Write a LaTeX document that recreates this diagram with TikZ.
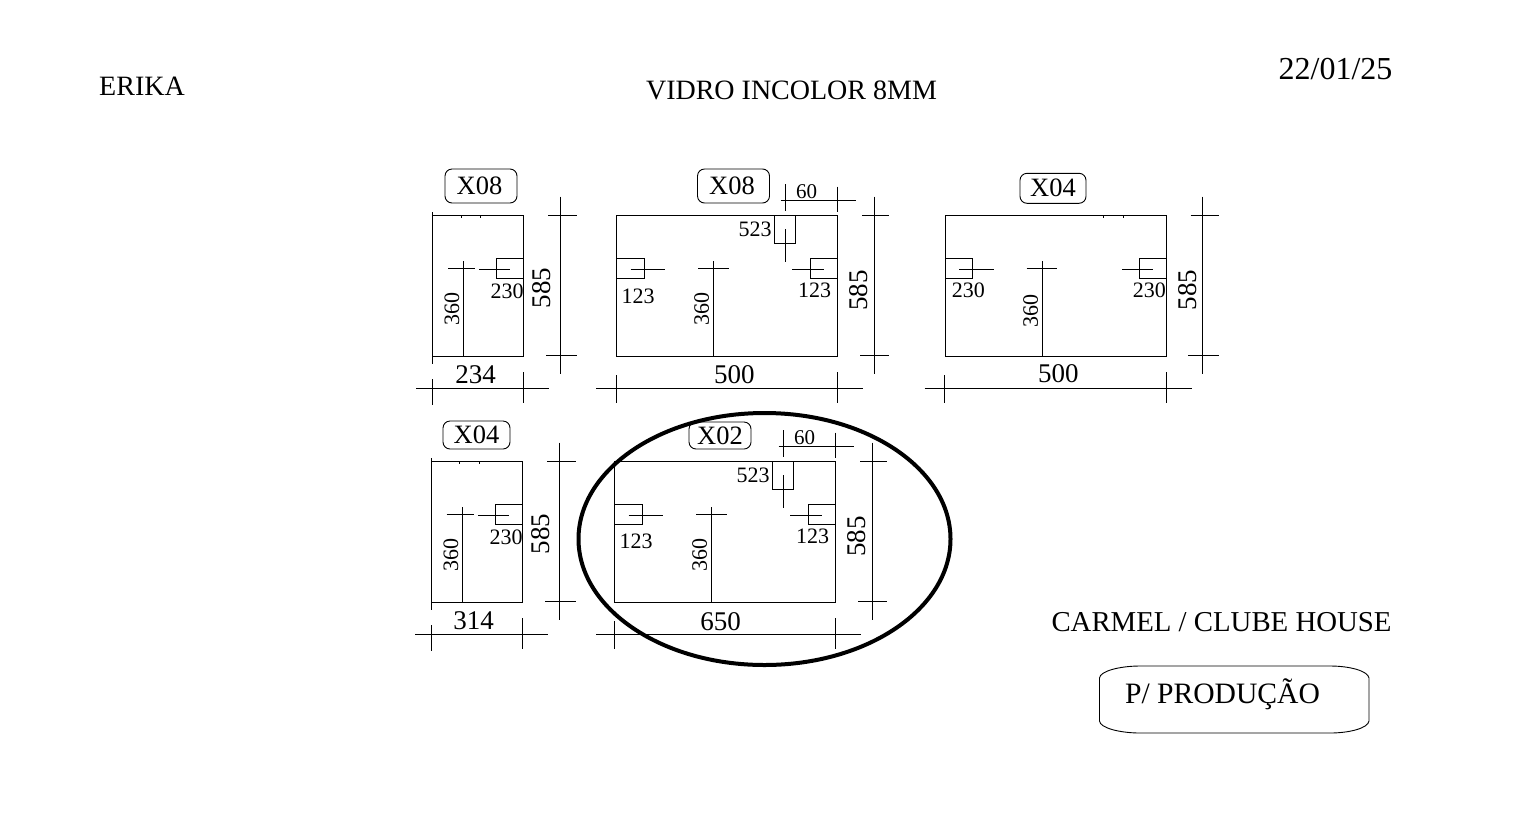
\documentclass[tikz,border=0pt]{standalone}
\usepackage{fontspec}
\setmainfont{Liberation Serif}
\tikzset{
  panel/.style={draw=black,line width=1pt},
  dimline/.style={draw=black,line width=.95pt},
  numsmall/.style={inner sep=0pt,font=\fontsize{22}{24}\selectfont},
  numbig/.style={inner sep=0pt,font=\fontsize{27}{29}\selectfont},
  headtext/.style={inner sep=0pt,font=\fontsize{28}{30}\selectfont},
  qtybox/.style={draw=black,line width=.9pt,rounded corners=7pt,inner sep=0pt,
    font=\fontsize{26.5}{28}\selectfont},
}
\newcommand{\qtytext}[1]{\raisebox{1pt}{\kern-3pt #1}}
\begin{document}
\begin{tikzpicture}[x=1pt,y=-1pt]
\useasboundingbox (0,0) rectangle (1536,812);
\fill[white] (0,0) rectangle (1536,812);

% headings
\node(erika) [headtext] at (142,86) {ERIKA};
\node(vidro) [headtext] at (791.5,90) {VIDRO INCOLOR 8MM};
\node(date) [headtext,font=\fontsize{32}{34}\selectfont] at (1335.5,69) {22/01/25};
\node(carmel) [headtext,font=\fontsize{28.8}{32}\selectfont] at (1221.5,622) {CARMEL / CLUBE HOUSE};
\node(prod) [headtext,font=\fontsize{29.6}{32}\selectfont] at (1222.5,694) {P/ PRODUÇÃO};
\draw[line width=.9pt,black] (1099.5,678) .. controls (1100,671) and (1120,666) .. (1140,666) -- (1330,666)
  .. controls (1350,666) and (1368,671) .. (1369,678) -- (1369,721)
  .. controls (1368,728) and (1350,733) .. (1330,733) -- (1140,733)
  .. controls (1120,733) and (1100,728) .. (1099.5,721) -- cycle;

% panel X08 narrow
\node(qa) [qtybox,minimum width=72pt,minimum height=34pt] at (481,186) {\qtytext{X08}};
\draw[panel] (432.5,215.7) rectangle (523.5,356.7);
\draw[panel] (432.5,212) -- (432.5,364);
\draw[dimline] (461,215.7) -- (461,218);
\draw[dimline] (480.7,215.7) -- (480.7,218);
\draw[panel] (523.5,258.3) -- (496.7,258.3) -- (496.7,278.3) -- (523.5,278.3);
\draw[dimline] (479.3,269) -- (510,269);
\draw[dimline] (463.3,261) -- (463.3,356.7);
\draw[dimline] (448,268.3) -- (475.3,268.3);
\draw[dimline] (416,388.3) -- (548.7,388.3);
\draw[dimline] (432.5,379) -- (432.5,405);
\draw[dimline] (523.3,372) -- (523.3,402.7);
\draw[dimline] (560.3,196.7) -- (560.3,373.7);
\draw[dimline] (548,215.7) -- (576.7,215.7);
\draw[dimline] (546.3,355.7) -- (576.7,355.7);
\node(a230) [numsmall] at (507,291) {230};
\node(a360) [numsmall,rotate=90] at (452,309) {360};
\node(a585) [numbig,rotate=90] at (541.7,288) {585};
\node(a234) [numbig] at (475.7,375) {234};

% panel X08 wide
\node(qb) [qtybox,minimum width=72pt,minimum height=34pt] at (733.5,186) {\qtytext{X08}};
\draw[panel] (616.7,215.7) rectangle (837.3,356.7);
\draw[panel] (774.7,215.7) -- (774.7,243.3) -- (795,243.3) -- (795,215.7);
\draw[dimline] (785.7,229.3) -- (785.7,261.7);
\draw[dimline] (780.7,200.7) -- (856,200.7);
\draw[dimline] (785.7,184) -- (785.7,210.7);
\draw[dimline] (837.3,186.7) -- (837.3,212.3);
\draw[panel] (616.7,258.3) -- (644,258.3) -- (644,278.3) -- (616.7,278.3);
\draw[dimline] (630.7,269) -- (665,269);
\draw[dimline] (713.3,261) -- (713.3,356.7);
\draw[dimline] (698,268.3) -- (728.7,268.3);
\draw[panel] (837.3,258.3) -- (810.7,258.3) -- (810.7,278.3) -- (837.3,278.3);
\draw[dimline] (792.3,269) -- (824,269);
\draw[dimline] (596,388.3) -- (862.7,388.3);
\draw[dimline] (616,375) -- (616,402.7);
\draw[dimline] (837.3,372.3) -- (837.3,402.7);
\draw[dimline] (874,196.7) -- (874,373.7);
\draw[dimline] (862,215.7) -- (889,215.7);
\draw[dimline] (860,355.7) -- (889,355.7);
\node(b60) [numsmall,font=\fontsize{21}{23}\selectfont] at (806.7,192) {60};
\node(b523) [numsmall] at (755,229.3) {523};
\node(b123l) [numsmall] at (638,296) {123};
\node(b123r) [numsmall] at (814.7,290.3) {123};
\node(b360) [numsmall,rotate=90] at (701.7,309) {360};
\node(b585) [numbig,rotate=90] at (858.3,290.7) {585};
\node(b500) [numbig] at (734.3,375) {500};

% panel X04 wide
\node(qc) [qtybox,minimum width=66pt,minimum height=30pt] at (1053,188.3) {X04};
\draw[panel] (945.3,215.7) rectangle (1166.7,356.7);
\draw[dimline] (1103.3,215.7) -- (1103.3,218);
\draw[dimline] (1123.3,215.7) -- (1123.3,218);
\draw[panel] (945.3,258.3) -- (972.7,258.3) -- (972.7,278.3) -- (945.3,278.3);
\draw[dimline] (959.3,269) -- (993.7,269);
\draw[dimline] (1042,261) -- (1042,356.7);
\draw[dimline] (1026.7,268.3) -- (1057.3,268.3);
\draw[panel] (1166.7,258.3) -- (1139.3,258.3) -- (1139.3,278.3) -- (1166.7,278.3);
\draw[dimline] (1122,269) -- (1152.7,269);
\draw[dimline] (924.7,388.3) -- (1191.7,388.3);
\draw[dimline] (944.7,375) -- (944.7,402.7);
\draw[dimline] (1166,372.3) -- (1166,402.7);
\draw[dimline] (1202.7,196.7) -- (1202.7,373.7);
\draw[dimline] (1190.7,215.7) -- (1219.3,215.7);
\draw[dimline] (1188.3,355.7) -- (1219.3,355.7);
\node(c230l) [numsmall] at (968.3,290) {230};
\node(c230r) [numsmall] at (1149.3,290) {230};
\node(c360) [numsmall,rotate=90] at (1030.7,311) {360};
\node(c585) [numbig,rotate=90] at (1187.3,290) {585};
\node(c500) [numbig] at (1058.3,373.3) {500};

% panel X04 narrow
\node(qd) [qtybox,minimum width=67pt,minimum height=28pt] at (476.5,435) {X04};
\draw[panel] (431,461.7) rectangle (522.5,602.7);
\draw[panel] (431,458) -- (431,610);
\draw[dimline] (459.8,461.7) -- (459.8,464);
\draw[dimline] (479.5,461.7) -- (479.5,464);
\draw[panel] (522.5,504.3) -- (495.4,504.3) -- (495.4,524.3) -- (522.5,524.3);
\draw[dimline] (478,515) -- (508.7,515);
\draw[dimline] (462,507) -- (462,602.7);
\draw[dimline] (446.7,514.3) -- (474,514.3);
\draw[dimline] (415,634) -- (547.7,634);
\draw[dimline] (431,625) -- (431,651);
\draw[dimline] (522,618) -- (522,648.7);
\draw[dimline] (559.3,442.7) -- (559.3,619.7);
\draw[dimline] (547,461.7) -- (575.7,461.7);
\draw[dimline] (545.3,601.7) -- (575.7,601.7);
\node(d230) [numsmall] at (506,537) {230};
\node(d360) [numsmall,rotate=90] at (451,555) {360};
\node(d585) [numbig,rotate=90] at (540.7,534) {585};
\node(d314) [numbig] at (473.5,621) {314};

% panel X02
\node(qe) [qtybox,minimum width=62pt,minimum height=27pt] at (720,435.5) {X02};
\draw[panel] (614.7,461.7) rectangle (835.3,602.7);
\draw[panel] (772.7,461.7) -- (772.7,489.3) -- (793,489.3) -- (793,461.7);
\draw[dimline] (783.7,475.3) -- (783.7,507.7);
\draw[dimline] (778.7,446.7) -- (854,446.7);
\draw[dimline] (783.7,430) -- (783.7,456.7);
\draw[dimline] (835.3,432.7) -- (835.3,458.3);
\draw[panel] (614.7,504.3) -- (642,504.3) -- (642,524.3) -- (614.7,524.3);
\draw[dimline] (628.7,515) -- (663,515);
\draw[dimline] (711.3,507) -- (711.3,602.7);
\draw[dimline] (696,514.3) -- (726.7,514.3);
\draw[panel] (835.3,504.3) -- (808.7,504.3) -- (808.7,524.3) -- (835.3,524.3);
\draw[dimline] (790.3,515) -- (822,515);
\draw[dimline] (596,634) -- (860.7,634);
\draw[dimline] (614,621) -- (614,648.7);
\draw[dimline] (835.3,618.3) -- (835.3,648.7);
\draw[dimline] (872,442.7) -- (872,619.7);
\draw[dimline] (860,461.7) -- (887,461.7);
\draw[dimline] (858,601.7) -- (887,601.7);
\node(e60) [numsmall,font=\fontsize{21}{23}\selectfont] at (804.7,438) {60};
\node(e523) [numsmall] at (753,475.3) {523};
\node(e123l) [numsmall] at (636,541) {123};
\node(e123r) [numsmall] at (812.7,536.3) {123};
\node(e360) [numsmall,rotate=90] at (699.7,555) {360};
\node(e585) [numbig,rotate=90] at (856.3,536.7) {585};
\node(e650) [numbig] at (720.5,622) {650};

% ring round X02
\draw[line width=4pt,black] (764.5,539) ellipse (186pt and 126pt);
\end{tikzpicture}
\end{document}
